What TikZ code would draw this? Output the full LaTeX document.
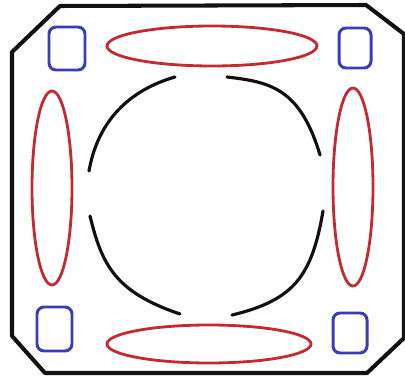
\documentclass[tikz,border=0pt]{standalone}
\usepackage{xcolor}
\usepackage{tikz}
\definecolor{pink}{HTML}{111111}
\definecolor{pred}{HTML}{C42A32}
\definecolor{pblue}{HTML}{3A3DB8}
\tikzset{
  frame/.style={pink,line width=2.3pt,line join=round},
  pad/.style={pblue,line width=1.7pt,rounded corners=4pt},
  coil/.style={pred,line width=1.6pt},
  rim/.style={pink,line width=1.8pt,line cap=round}
}

\begin{document}
\begin{tikzpicture}[x=0.02cm,y=-0.02cm]
  \useasboundingbox (0,0) rectangle (405,381);

  % outer frame
  \draw[frame] (60,6) -- (366,5) -- (404,34) -- (404,338) -- (367,373)
    -- (45,373) -- (12,336) -- (12,52) -- cycle;

  % corner pads
  \draw[pad] (49,27) rectangle (85,70);
  \draw[pad] (339,28) rectangle (371,68);
  \draw[pad] (37,307) rectangle (72,351);
  \draw[pad] (333,313) rectangle (367,353);

  % side coils
  \draw[coil] (212,46) ellipse (105 and 20);
  \draw[coil] (209,344) ellipse (102 and 19);
  \draw[coil] (52,188) ellipse (20 and 97);
  \draw[coil] (353,187) ellipse (20 and 99);

  % inner rim
  \draw[rim] (89,171) .. controls (98,120) and (130,90) .. (175,77);
  \draw[rim] (227,77) .. controls (270,82) and (300,88) .. (320,155);
  \draw[rim] (90,216) .. controls (102,265) and (115,292) .. (180,314);
  \draw[rim] (323,211) .. controls (312,275) and (295,300) .. (232,315);
\end{tikzpicture}
\end{document}
